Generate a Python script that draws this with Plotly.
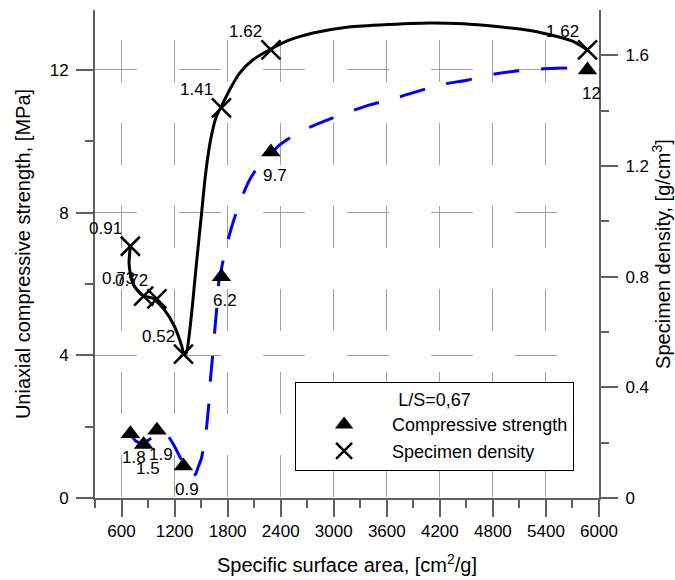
import plotly.graph_objects as go

# ---------------- data ----------------
surface_area = [700, 850, 1000, 1300, 1730, 2290, 5870]
strength = [1.8, 1.5, 1.9, 0.9, 6.2, 9.7, 12]
density = [0.91, 0.73, 0.72, 0.52, 1.41, 1.62, 1.62]
strength_labels = ["1.8", "1.5", "1.9", "0.9", "6.2", "9.7", "12"]
density_labels = ["0.91", "0.73", "0.72", "0.52", "1.41", "1.62", "1.62"]

# fitted curves
strength_curve_x = [700, 765, 822, 879, 935, 1000, 1086, 1143, 1199, 1256, 1313, 1360,
                    1400, 1440, 1463, 1502, 1530, 1558, 1588, 1607, 1633, 1655, 1680,
                    1701, 1728, 1766, 1842, 1928, 2030, 2106, 2193, 2389, 2616, 2880,
                    3145, 3409, 3711, 3975, 4258, 4522, 4806, 5071, 5372, 5655, 5870]
strength_curve_y = [1.8, 1.59, 1.54, 1.59, 1.68, 1.85, 1.82, 1.68, 1.45, 1.17, 0.93, 0.70,
                    0.61, 0.68, 0.84, 1.10, 1.45, 1.91, 2.66, 3.36, 4.06, 4.72, 5.40,
                    6.07, 6.40, 6.86, 7.57, 8.22, 8.83, 9.15, 9.40, 9.90, 10.27, 10.55,
                    10.80, 11.02, 11.22, 11.42, 11.61, 11.72, 11.88, 11.97, 12.03, 12.05, 12.0]

density_curve_x = [700, 685, 712, 780, 850, 953, 1086, 1199, 1282, 1305, 1332, 1389, 1426,
                   1463, 1502, 1539, 1577, 1615, 1672, 1728, 1823, 1936, 2087, 2290, 2502,
                   2766, 3145, 3522, 4089, 4466, 4844, 5222, 5524, 5712, 5870]
density_curve_y = [0.91, 0.85, 0.79, 0.75, 0.73, 0.722, 0.68, 0.62, 0.548, 0.52, 0.524, 0.656,
                   0.777, 0.897, 1.018, 1.138, 1.235, 1.307, 1.379, 1.415, 1.476, 1.536,
                   1.584, 1.623, 1.656, 1.681, 1.702, 1.710, 1.717, 1.714, 1.704, 1.690,
                   1.668, 1.650, 1.62]

x_range = [300, 6000]
y_range = [0, 13.68]
y2_range = [0, 1.764]

FONT = "Liberation Sans, Arial, sans-serif"
AXIS = "#606060"
GRID = "#a0a0a0"

fig = go.Figure()

# curves
fig.add_trace(go.Scatter(x=strength_curve_x, y=strength_curve_y, mode="lines",
                         line=dict(color="#0000ff", width=3, dash="26px,22px", shape="spline", smoothing=0.6),
                         showlegend=False, hoverinfo="skip"))
fig.add_trace(go.Scatter(x=density_curve_x, y=density_curve_y, mode="lines", yaxis="y2",
                         line=dict(color="black", width=3, shape="spline", smoothing=0.6),
                         showlegend=False, hoverinfo="skip"))

# markers
fig.add_trace(go.Scatter(x=surface_area, y=strength, mode="markers", name="Compressive strength",
                         marker=dict(symbol="triangle-up", size=17, color="black")))
fig.add_trace(go.Scatter(x=surface_area, y=density, mode="markers", name="Specimen density",
                         yaxis="y2",
                         marker=dict(symbol="x-thin", size=19, color="black",
                                     line=dict(color="black", width=2.5))))

annotations = []
for xv, yv, t in zip(surface_area, strength, strength_labels):
    annotations.append(dict(x=xv, y=yv, xref="x", yref="y", text=t, showarrow=False,
                            xshift=4, yshift=-24, font=dict(size=17, color="black", family=FONT)))
for xv, yv, t in zip(surface_area, density, density_labels):
    annotations.append(dict(x=xv, y=yv, xref="x", yref="y2", text=t, showarrow=False,
                            xshift=-25, yshift=18, font=dict(size=17, color="black", family=FONT)))

common_axis = dict(showline=True, linecolor=AXIS, linewidth=2, ticks="outside", ticklen=17,
                   tickwidth=1.5, tickcolor=AXIS, zeroline=False, automargin=False,
                   tickfont=dict(size=17, color="black", family=FONT))

fig.update_layout(
    width=675, height=580, autosize=False,
    margin=dict(l=95, r=76, t=10, b=82, autoexpand=False),
    paper_bgcolor="white", plot_bgcolor="white",
    font=dict(family=FONT, color="black"),
    xaxis=dict(range=x_range, tick0=0, dtick=600,
               minor=dict(tick0=300, dtick=600, ticklen=8, ticks="outside", tickcolor=AXIS, tickwidth=1.5, showgrid=False),
               showgrid=True, gridcolor=GRID, gridwidth=1, griddash="0px,30px,42px,11px",
               title=dict(text="Specific surface area, [cm<sup>2</sup>/g]", font=dict(size=20), standoff=18),
               **common_axis),
    yaxis=dict(range=y_range, tick0=0, dtick=4,
               minor=dict(tick0=0, dtick=2, ticklen=8, ticks="outside", tickcolor=AXIS, tickwidth=1.5, showgrid=False),
               showgrid=True, gridcolor=GRID, gridwidth=1, griddash="42px,42px",
               ticklabelstandoff=4,
               title=dict(text="Uniaxial compressive strength, [MPa]", font=dict(size=20), standoff=14),
               **common_axis),
    yaxis2=dict(range=y2_range, overlaying="y", side="right", tick0=0, dtick=0.4,
                minor=dict(tick0=0, dtick=0.2, ticklen=8, ticks="outside", tickcolor=AXIS, tickwidth=1.5, showgrid=False),
                showgrid=False, ticklabelstandoff=4,
                title=dict(text="Specimen density, [g/cm<sup>3</sup>]", font=dict(size=20), standoff=8),
                **common_axis),
    legend=dict(x=0.397, y=0.238, xanchor="left", yanchor="top",
                bordercolor="black", borderwidth=1, bgcolor="white",
                font=dict(size=18, family=FONT), itemwidth=86,
                title=dict(text="L/S=0,67", side="top center", font=dict(size=18, family=FONT))),
    annotations=annotations,
)

fig.write_html("out.html", config={"responsive": False, "displayModeBar": False},
               post_script="document.body.style.margin='0';document.body.style.padding='0';")
